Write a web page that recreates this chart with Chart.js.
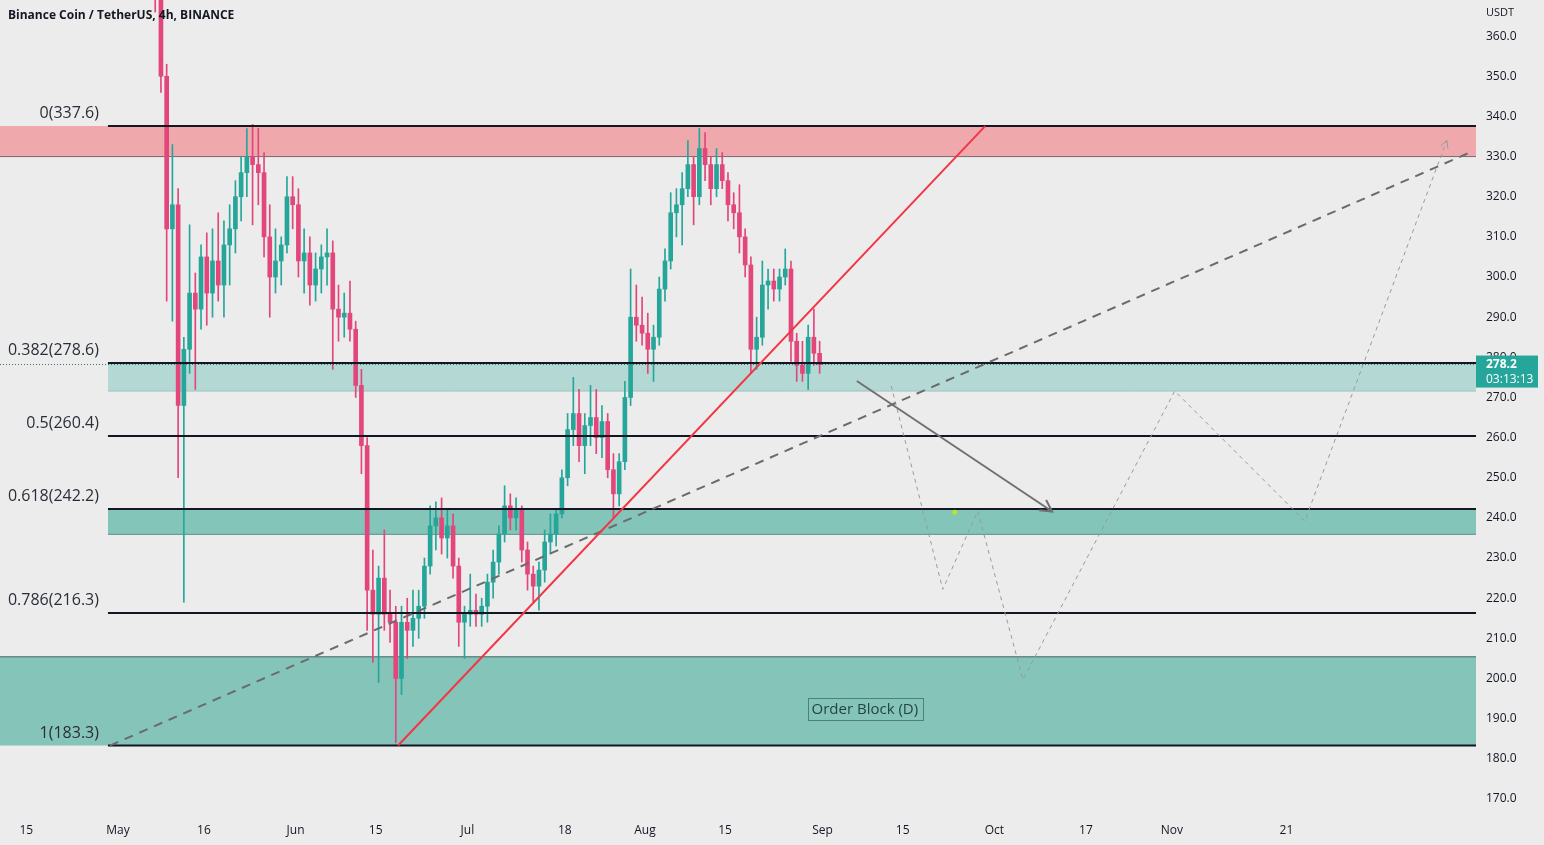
<!DOCTYPE html>
<html>
<head>
<meta charset="utf-8">
<script src="https://cdn.jsdelivr.net/npm/chart.js@4.4.1/dist/chart.umd.min.js"></script>
<style>
  html, body { margin: 0; padding: 0; background: #ececec; }
  canvas { display: block; }
</style>
</head>
<body>
<canvas id="myChart" width="1544" height="845"></canvas>
<script>
// x values are days counted from May 1 (0 = May 1)
const tickDays = [-16, 0, 15, 31, 45, 61, 78, 92, 106, 123, 137, 153, 169, 184, 204];
const tickLabels = ["15", "May", "16", "Jun", "15", "Jul", "18", "Aug", "15", "Sep", "15", "Oct", "17", "Nov", "21"];

// daily candles, first one is May 7
const firstDay = 6;
const opens = [
  378, 370, 350, 312, 318, 268, 282, 296, 292, 305,
  296, 304, 298, 308, 312, 320, 326, 330, 328, 326,
  310, 300, 304, 308, 320, 318, 304, 306, 298, 302,
  305, 306, 292, 290, 291, 287, 273, 258, 222, 216,
  225, 216, 214, 200, 214, 212, 215, 218, 228, 238,
  240, 235, 238, 228, 214, 216, 217, 216, 218, 224,
  229, 236, 243, 240, 242, 232, 226, 223, 227, 234,
  236, 241, 250, 262, 266, 258, 263, 265, 260, 264,
  252, 246, 254, 270, 290, 288, 286, 282, 285, 297,
  304, 316, 318, 322, 328, 320, 332, 328, 322, 328,
  324, 318, 316, 310, 303, 282, 285, 298, 299, 297,
  300, 302, 284, 278, 276, 285, 281
];
const highs = [
  384, 372, 353, 333, 322, 285, 313, 301, 308, 311,
  312, 316, 314, 318, 324, 330, 337, 338, 337, 331,
  318, 312, 310, 325, 325, 322, 312, 310, 306, 308,
  312, 309, 298, 296, 299, 289, 277, 260, 232, 228,
  237, 222, 218, 218, 220, 222, 222, 230, 243, 244,
  245, 242, 241, 230, 218, 226, 221, 220, 226, 232,
  238, 248, 246, 245, 243, 234, 228, 229, 237, 241,
  242, 252, 266, 275, 272, 266, 273, 272, 268, 266,
  256, 256, 274, 302, 298, 295, 291, 288, 300, 307,
  321, 322, 326, 334, 330, 337, 336, 330, 332, 331,
  326, 321, 323, 312, 305, 290, 304, 302, 302, 302,
  307, 304, 286, 284, 288, 292, 284
];
const lows = [
  366, 346, 294, 289, 250, 219, 276, 272, 287, 288,
  290, 294, 290, 298, 306, 314, 320, 313, 318, 305,
  290, 296, 298, 306, 312, 300, 296, 293, 294, 296,
  298, 277, 284, 285, 284, 270, 251, 212, 204, 199,
  212, 209, 184, 196, 205, 208, 210, 215, 226, 232,
  231, 230, 225, 208, 205, 213, 213, 213, 214, 220,
  226, 234, 237, 237, 229, 222, 219, 217, 224, 231,
  233, 240, 248, 258, 254, 251, 258, 256, 255, 250,
  240, 243, 252, 268, 284, 283, 276, 274, 283, 294,
  302, 310, 308, 320, 313, 318, 324, 318, 320, 322,
  314, 312, 306, 300, 276, 277, 283, 292, 294, 294,
  298, 279, 274, 274, 272, 278, 276
];
const closes = [
  370, 350, 312, 318, 268, 282, 296, 292, 305, 296,
  304, 298, 308, 312, 320, 326, 330, 328, 326, 310,
  300, 304, 308, 320, 318, 304, 306, 298, 302, 305,
  306, 292, 290, 291, 287, 273, 258, 222, 216, 225,
  216, 214, 200, 214, 212, 215, 218, 228, 238, 240,
  235, 238, 228, 214, 216, 217, 216, 218, 224, 229,
  236, 243, 240, 242, 232, 226, 223, 227, 234, 236,
  241, 250, 262, 266, 258, 263, 265, 260, 264, 252,
  246, 254, 270, 290, 288, 286, 282, 285, 297, 304,
  316, 318, 322, 328, 320, 332, 328, 322, 328, 324,
  318, 316, 310, 303, 282, 285, 298, 299, 297, 300,
  302, 284, 278, 276, 285, 281, 278.2
];

// fibonacci levels
const fibLevels = ["0", "0.382", "0.5", "0.618", "0.786", "1"];
const fibPrices = [337.6, 278.6, 260.4, 242.2, 216.3, 183.3];
const fibStartDay = -1.75;

// zones
const zoneLow = [330.0, 271.6, 235.9, 183.3];
const zoneHigh = [337.6, 278.6, 242.2, 205.4];
const zoneFromEdge = [true, false, false, true];
const zoneFill = ["#efa9ad", "#b4d9d5", "#83c5b8", "#85c4b9"];
const zoneEdge = ["#7a6a6b", "#9cc3be", "#5e9188", "#3f625c"];
const zoneEdgeAtTop = [false, false, false, true];

// drawings
const trendDays = [48.9, 151.4];
const trendPrices = [183.3, 337.6];
const channelDays = [-1.4, 236.0];
const channelPrices = [183.3, 331.0];
const arrowDays = [129.0, 163.1];
const arrowPrices = [274.1, 241.6];
const pathDays = [135.0, 144.0, 150.1, 158.0, 184.5, 207.2, 232.0];
const pathPrices = [272.9, 222.2, 241.7, 199.7, 271.6, 239.2, 334.0];
const dotDay = 146.1;
const dotPrice = 241.4;

const lastPrice = 278.2;
const countdown = "03:13:13";
const obLabel = "Order Block (D)";
const obDay = 130.4;
const obPrice = 192.5;

const xMin = -20.6;
const xMax = 237.1;
const yMin = 166.0;
const yMax = 369;

const upColor = "#26a69a";
const downColor = "#e2467b";

function candleColor(i) {
  return closes[i] >= opens[i] ? upColor : downColor;
}

const wickData = highs.map((h, i) => ({ x: firstDay + i + 0.5, y: [lows[i], h] }));
const bodyData = opens.map((o, i) => ({ x: firstDay + i + 0.5, y: [o, closes[i]] }));

function seg(days, prices) {
  return days.map((d, i) => ({ x: d, y: prices[i] }));
}

const datasets = [];

zoneLow.forEach((lo, i) => {
  const start = zoneFromEdge[i] ? xMin : fibStartDay;
  const edge = zoneEdgeAtTop[i] ? zoneHigh[i] : lo;
  const other = zoneEdgeAtTop[i] ? lo : zoneHigh[i];
  datasets.push({
    type: "line",
    data: [{ x: start, y: edge }, { x: xMax, y: edge }],
    borderColor: zoneEdge[i],
    borderWidth: 1,
    backgroundColor: zoneFill[i],
    fill: { value: other },
    pointRadius: 0,
    order: 20,
  });
});

datasets.push({
  type: "bar",
  data: wickData,
  backgroundColor: (c) => candleColor(c.dataIndex),
  barThickness: 1,
  grouped: false,
  order: 12,
});
datasets.push({
  type: "bar",
  data: bodyData,
  backgroundColor: (c) => candleColor(c.dataIndex),
  barThickness: 4,
  grouped: false,
  order: 11,
});

fibPrices.forEach((p) => {
  datasets.push({
    type: "line",
    data: [{ x: fibStartDay, y: p }, { x: xMax, y: p }],
    borderColor: "#131722",
    borderWidth: 2,
    pointRadius: 0,
    fill: false,
    order: 5,
  });
});

datasets.push({
  type: "line",
  data: [{ x: xMin, y: lastPrice }, { x: xMax, y: lastPrice }],
  borderColor: "#3b6e68",
  borderWidth: 1,
  borderDash: [1, 2],
  pointRadius: 0,
  fill: false,
  order: 6,
});

datasets.push({
  type: "line",
  data: seg(trendDays, trendPrices),
  borderColor: "#f23645",
  borderWidth: 2,
  pointRadius: 0,
  fill: false,
  order: 2,
});
datasets.push({
  type: "line",
  data: seg(channelDays, channelPrices),
  borderColor: "#6b6b6b",
  borderWidth: 2,
  borderDash: [9, 7],
  pointRadius: 0,
  fill: false,
  order: 2,
});
datasets.push({
  type: "line",
  data: seg(arrowDays, arrowPrices),
  borderColor: "#707070",
  borderWidth: 2,
  pointRadius: 0,
  fill: false,
  order: 2,
});
datasets.push({
  type: "line",
  data: seg(pathDays, pathPrices),
  borderColor: "#9a9a9a",
  borderWidth: 1,
  borderDash: [4, 4],
  pointRadius: 0,
  fill: false,
  order: 2,
});
datasets.push({
  type: "line",
  data: [{ x: dotDay, y: dotPrice }],
  showLine: false,
  pointRadius: 2.5,
  pointBackgroundColor: "#b6e61e",
  pointBorderWidth: 0,
  order: 1,
});

function arrowHead(ctx, x, y, days, prices, n, len, color, width) {
  const x0 = x.getPixelForValue(days[n - 2]), y0 = y.getPixelForValue(prices[n - 2]);
  const x1 = x.getPixelForValue(days[n - 1]), y1 = y.getPixelForValue(prices[n - 1]);
  const a = Math.atan2(y1 - y0, x1 - x0);
  ctx.strokeStyle = color;
  ctx.lineWidth = width;
  ctx.setLineDash([]);
  ctx.beginPath();
  ctx.moveTo(x1 - len * Math.cos(a - 0.5), y1 - len * Math.sin(a - 0.5));
  ctx.lineTo(x1, y1);
  ctx.lineTo(x1 - len * Math.cos(a + 0.5), y1 - len * Math.sin(a + 0.5));
  ctx.stroke();
}

const overlay = {
  id: "overlay",
  afterDatasetsDraw(chart) {
    const { ctx, scales: { x, y } } = chart;
    ctx.save();
    arrowHead(ctx, x, y, arrowDays, arrowPrices, arrowDays.length, 13, "#707070", 2);
    arrowHead(ctx, x, y, pathDays, pathPrices, pathDays.length, 8, "#9a9a9a", 1);

    ctx.font = "16px 'Open Sans'";
    ctx.fillStyle = "#2a2e39";
    ctx.textAlign = "right";
    ctx.textBaseline = "alphabetic";
    const lx = x.getPixelForValue(fibStartDay) - 9;
    fibPrices.forEach((p, i) => {
      ctx.fillText(fibLevels[i] + "(" + p.toFixed(1) + ")", lx, y.getPixelForValue(p) - 8);
    });

    ctx.font = "15px 'Open Sans'";
    const cx = x.getPixelForValue(obDay), cy = y.getPixelForValue(obPrice);
    const w = ctx.measureText(obLabel).width + 8;
    ctx.strokeStyle = "#4f7f78";
    ctx.lineWidth = 1;
    ctx.strokeRect(Math.round(cx - w / 2) + 0.5, Math.round(cy - 11) + 0.5, Math.round(w), 22);
    ctx.fillStyle = "#24443f";
    ctx.textAlign = "center";
    ctx.textBaseline = "middle";
    ctx.fillText(obLabel, cx, cy + 1);

    ctx.font = "bold 12px 'Open Sans'";
    ctx.fillStyle = "#131722";
    ctx.textAlign = "left";
    ctx.fillText("Binance Coin / TetherUS, 4h, BINANCE", 8, 16);
    ctx.restore();
  },
  afterDraw(chart) {
    const { ctx, chartArea, scales: { y } } = chart;
    ctx.save();
    ctx.font = "11px 'Open Sans'";
    ctx.fillStyle = "#131722";
    ctx.textAlign = "left";
    ctx.textBaseline = "middle";
    ctx.fillText("USDT", chartArea.right + 10, 13);

    const py = y.getPixelForValue(lastPrice);
    ctx.fillStyle = upColor;
    ctx.fillRect(chartArea.right, py - 9, 62, 32);
    ctx.fillStyle = "#ffffff";
    ctx.font = "bold 12px 'Open Sans'";
    ctx.fillText(lastPrice.toFixed(1), chartArea.right + 10, py);
    ctx.font = "12px 'Open Sans'";
    ctx.fillText(countdown, chartArea.right + 10, py + 15);
    ctx.restore();
  },
};

new Chart("myChart", {
  type: "line",
  data: { datasets: datasets },
  options: {
    responsive: false,
    animation: false,
    events: [],
    layout: { padding: 0, autoPadding: false },
    plugins: {
      legend: { display: false },
      tooltip: { enabled: false },
      title: { display: false },
    },
    scales: {
      x: {
        type: "linear",
        min: xMin,
        max: xMax,
        offset: false,
        grid: { display: false, offset: false, drawTicks: false },
        border: { display: false },
        ticks: {
          autoSkip: false,
          maxRotation: 0,
          includeBounds: false,
          padding: 8,
          color: "#131722",
          font: { family: "'Open Sans'", size: 12 },
          callback: (v) => tickLabels[tickDays.indexOf(v)],
        },
        afterBuildTicks: (s) => {
          s.ticks = tickDays.map((d) => ({ value: d }));
        },
        afterFit: (s) => {
          s.height = 30;
          s.paddingLeft = 0;
          s.paddingRight = 0;
        },
      },
      y: {
        type: "linear",
        position: "right",
        min: yMin,
        max: yMax,
        beginAtZero: false,
        grid: { display: false, drawTicks: false },
        border: { display: false },
        ticks: {
          stepSize: 10,
          includeBounds: false,
          padding: 10,
          color: "#131722",
          font: { family: "'Open Sans'", size: 12 },
          callback: (v) => v.toFixed(1),
        },
        afterFit: (s) => {
          s.width = 68;
          s.paddingTop = 0;
          s.paddingBottom = 0;
        },
      },
    },
  },
  plugins: [overlay],
});
</script>
</body>
</html>
